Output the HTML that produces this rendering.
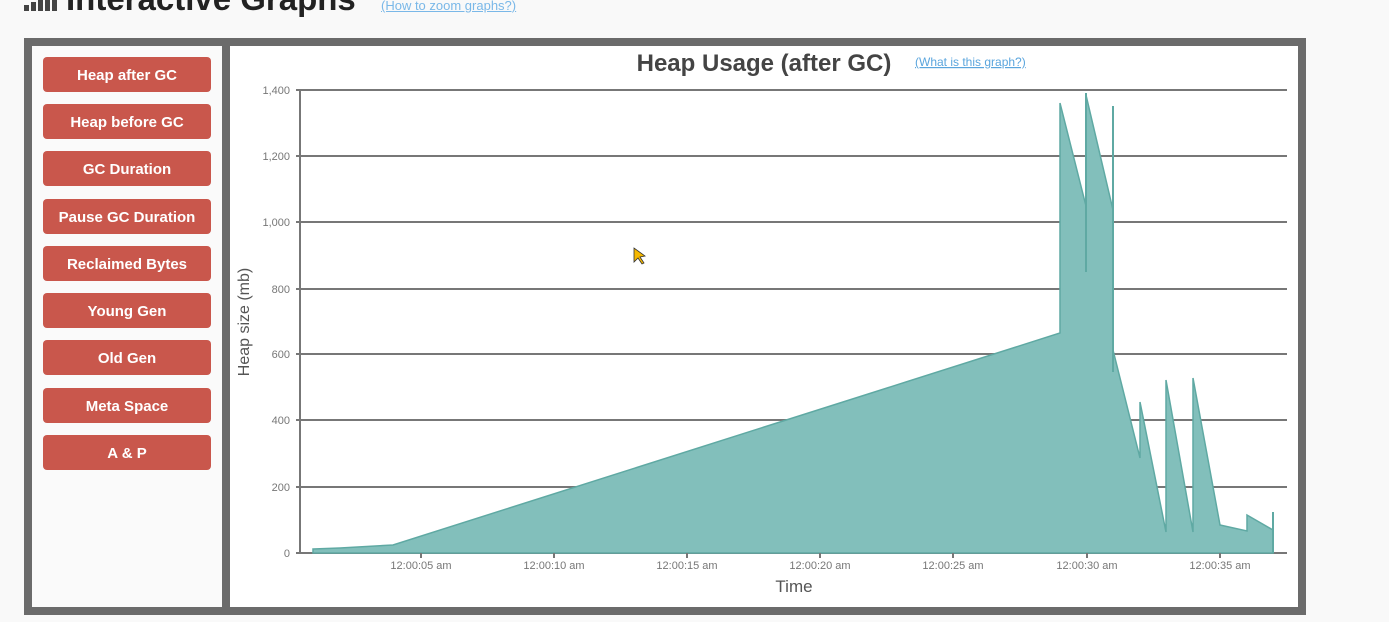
<!DOCTYPE html>
<html><head><meta charset="utf-8"><style>
body{margin:0;width:1389px;height:622px;background:#f9f9f9;position:relative;overflow:hidden;font-family:"Liberation Sans",sans-serif}
.t{position:absolute;left:66px;top:-20px;font-size:33px;font-weight:bold;color:#222}
.lk{position:absolute;left:381px;top:-2px;font-size:13px;color:#7ab8e8;text-decoration:underline}
.frame{position:absolute;left:24px;top:38px;width:1266px;height:561px;border:8px solid #6b6b6b;background:#fafafa}
.sep{position:absolute;left:190px;top:0;width:8px;height:561px;background:#6b6b6b}
.chart{position:absolute;left:198px;top:0;width:1068px;height:561px;background:#fff}
.b{position:absolute;left:11px;width:168px;height:35px;background:#c9574c;border-radius:4px;color:#fff;font-weight:bold;font-size:15px;text-align:center;line-height:37px}
</style></head><body>
<div style="position:absolute;left:24px;top:5px;width:5px;height:6px;background:#444"></div>
<div style="position:absolute;left:31px;top:2px;width:5px;height:9px;background:#444"></div>
<div style="position:absolute;left:38px;top:0px;width:5px;height:11px;background:#444"></div>
<div style="position:absolute;left:45px;top:0px;width:5px;height:11px;background:#444"></div>
<div style="position:absolute;left:52px;top:0px;width:5px;height:11px;background:#444"></div>
<div class="t">Interactive Graphs</div>
<div class="lk">(How to zoom graphs?)</div>
<div class="frame">
<div class="b" style="top:11px">Heap after GC</div>
<div class="b" style="top:58px">Heap before GC</div>
<div class="b" style="top:105px">GC Duration</div>
<div class="b" style="top:153px">Pause GC Duration</div>
<div class="b" style="top:200px">Reclaimed Bytes</div>
<div class="b" style="top:247px">Young Gen</div>
<div class="b" style="top:294px">Old Gen</div>
<div class="b" style="top:342px">Meta Space</div>
<div class="b" style="top:389px">A &amp; P</div>
<div class="sep"></div>
<div class="chart"></div>
</div>
<svg width="1389" height="622" style="position:absolute;left:0;top:0" font-family="Liberation Sans,sans-serif">
<g stroke="#777" stroke-width="2">
<line x1="296" y1="90" x2="1287" y2="90"/><line x1="296" y1="156" x2="1287" y2="156"/>
<line x1="296" y1="222" x2="1287" y2="222"/><line x1="296" y1="289" x2="1287" y2="289"/>
<line x1="296" y1="354" x2="1287" y2="354"/><line x1="296" y1="420" x2="1287" y2="420"/>
<line x1="296" y1="487" x2="1287" y2="487"/><line x1="296" y1="553" x2="1287" y2="553"/>
<line x1="300" y1="90" x2="300" y2="553"/>
</g>
<polygon fill="#82bfbb" stroke="#5fa9a3" stroke-width="1.5" points="313,549 340,548 393,545 1060,333 1060,103 1086,206 1086,95 1113,210 1113,350 1140,458 1140,402 1166,532 1166,380 1193,532 1193,378 1220,525 1247,531 1247,515 1273,530 1273,553 313,553"/>
<g stroke="#5fa9a3" stroke-width="2"><line x1="1086" y1="93" x2="1086" y2="272"/><line x1="1113" y1="106" x2="1113" y2="372"/><line x1="1273" y1="512" x2="1273" y2="553"/></g>
<g stroke="#777" stroke-width="2"><line x1="421" y1="553" x2="421" y2="558"/><line x1="554" y1="553" x2="554" y2="558"/><line x1="687" y1="553" x2="687" y2="558"/><line x1="820" y1="553" x2="820" y2="558"/><line x1="953" y1="553" x2="953" y2="558"/><line x1="1087" y1="553" x2="1087" y2="558"/><line x1="1220" y1="553" x2="1220" y2="558"/></g>
<g font-size="11" fill="#777" text-anchor="end">
<text x="290" y="94">1,400</text><text x="290" y="160">1,200</text><text x="290" y="226">1,000</text><text x="290" y="293">800</text><text x="290" y="358">600</text><text x="290" y="424">400</text><text x="290" y="491">200</text><text x="290" y="557">0</text></g>
<g font-size="11" fill="#777" text-anchor="middle">
<text x="421" y="569">12:00:05 am</text><text x="554" y="569">12:00:10 am</text><text x="687" y="569">12:00:15 am</text><text x="820" y="569">12:00:20 am</text><text x="953" y="569">12:00:25 am</text><text x="1087" y="569">12:00:30 am</text><text x="1220" y="569">12:00:35 am</text></g>
<text x="794" y="592" font-size="17" fill="#555" text-anchor="middle">Time</text>
<text transform="translate(249,322) rotate(-90)" font-size="16" fill="#555" text-anchor="middle">Heap size (mb)</text>
<text x="764" y="71" font-size="24" font-weight="bold" fill="#444" text-anchor="middle">Heap Usage (after GC)</text>
<text x="915" y="66" font-size="12" fill="#5aa5dd" text-decoration="underline">(What is this graph?)</text>
<polygon points="634,248 634,262 638,258 642,264 644,263 640,257 645,256" fill="#f5b800" stroke="#333" stroke-width="0.8"/>
</svg>
</body></html>
